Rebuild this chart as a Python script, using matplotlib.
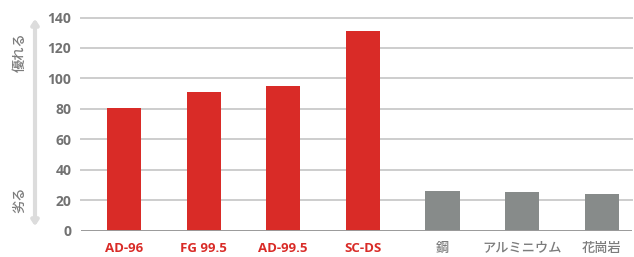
import matplotlib
matplotlib.use('Agg')
from matplotlib import pyplot as plt

# values
materials = ['AD-96', 'FG 99.5', 'AD-99.5', 'SC-DS', '鋼', 'アルミニウム', '花崗岩']
values = [80.8, 91.0, 95.2, 131.2, 26.2, 25.5, 24.2]
is_ceramic = [True, True, True, True, False, False, False]
yticks = [0, 20, 40, 60, 80, 100, 120, 140]

RED = '#d92b27'
GREY_BAR = '#878b8a'
LABEL_GREY = '#727272'

plt.rcParams['font.family'] = ['Open Sans', 'Noto Sans CJK JP', 'DejaVu Sans']

fig = plt.figure(figsize=(6.34, 2.57), dpi=100)
ax = fig.add_axes([81 / 634, 26.5 / 257, (632 - 81) / 634, (230.5 - 17.5) / 257])

xs = list(range(len(materials)))
colors = [RED if c else GREY_BAR for c in is_ceramic]
ax.bar(xs, values, width=0.43, color=colors, zorder=3)

ax.set_xlim(-0.54, 6.38)
ax.set_ylim(0, 140)
ax.set_yticks(yticks)
# horizontal grid, baseline a bit darker
for y in yticks[1:]:
    ax.axhline(y, color='#cdcdcd', lw=1.4, zorder=1, clip_on=False)
ax.axhline(0, color='#9a9a9a', lw=1.4, zorder=4)

for s in ax.spines.values():
    s.set_visible(False)
ax.tick_params(axis='both', length=0)
ax.tick_params(axis='y', pad=7)
ax.tick_params(axis='x', pad=8)
ax.set_yticklabels([str(t) for t in yticks], fontsize=10, fontweight='bold', color=LABEL_GREY)
ax.set_xticks(xs)
ax.set_xticklabels(materials, fontsize=9.5)
for lbl, c in zip(ax.get_xticklabels(), is_ceramic):
    if c:
        lbl.set_color(RED)
        lbl.set_fontweight('bold')
    else:
        lbl.set_color('#7c7c7c')
        lbl.set_fontweight('medium')
        lbl.set_fontsize(9.5)

# better / worse arrow on the left
fig.patches.append(matplotlib.patches.FancyArrowPatch(
    (35 / 634, 1 - 229 / 257), (35 / 634, 1 - 16 / 257), transform=fig.transFigure,
    arrowstyle='<|-|>,head_length=3,head_width=2', color='#dcdcdc', lw=3,
    mutation_scale=1))
fig.text(20 / 634, 1 - 52 / 257, '優れる', rotation=90, ha='center', va='center',
         fontsize=9.5, fontweight='medium', color='#7c7c7c')
fig.text(20 / 634, 1 - 200 / 257, '劣る', rotation=90, ha='center', va='center',
         fontsize=9.5, fontweight='medium', color='#7c7c7c')

fig.savefig('out.png', dpi=100)
